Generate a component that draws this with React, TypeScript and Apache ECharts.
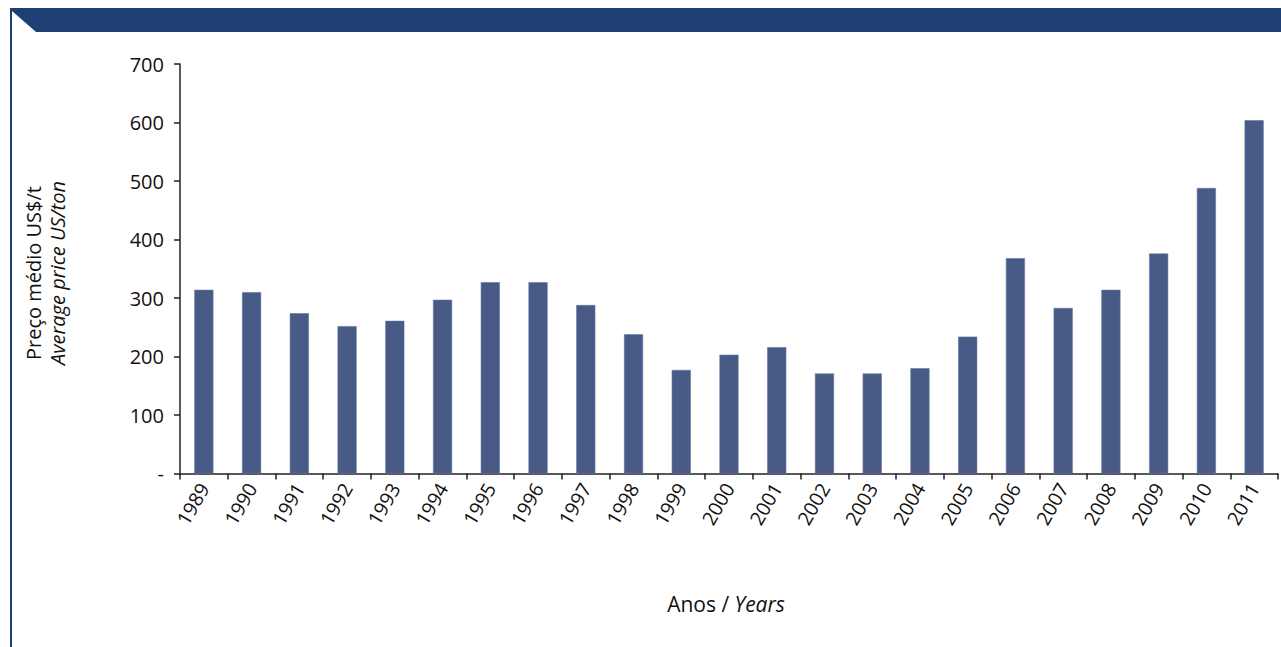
import React, { useEffect, useRef } from "react";
import * as echarts from "echarts";

const years = ["1989","1990","1991","1992","1993","1994","1995","1996","1997","1998","1999","2000","2001","2002","2003","2004","2005","2006","2007","2008","2009","2010","2011"];
const prices = [314, 310, 274, 252, 261, 297, 327, 327, 288, 238, 177, 203, 216, 171, 171, 180, 234, 368, 283, 314, 376, 488, 604];
const yTicks = { min: 0, max: 700, interval: 100 };

const FONT = "'Open Sans', 'Noto Sans', sans-serif";

export default function App() {
  const ref = useRef<HTMLDivElement>(null);
  useEffect(() => {
    if (!ref.current) return;
    const chart = echarts.init(ref.current, null, { renderer: "svg" });
    chart.setOption({
      animation: false,
      backgroundColor: "#ffffff",
      textStyle: { fontFamily: FONT },
      grid: { left: 180, right: 3, top: 64, bottom: 173.5, containLabel: false },
      xAxis: {
        type: "category",
        data: years,
        boundaryGap: true,
        axisLine: { lineStyle: { color: "#222", width: 1.5 } },
        axisTick: { show: true, length: 6, lineStyle: { color: "#222", width: 1.5 } },
        axisLabel: { rotate: 60, color: "#111", fontSize: 19.5, margin: 11, fontFamily: FONT, interval: 0 },
        splitLine: { show: false },
      },
      yAxis: {
        type: "value",
        min: yTicks.min,
        max: yTicks.max,
        interval: yTicks.interval,
        axisLine: { show: true, lineStyle: { color: "#222", width: 1.5 } },
        axisTick: { show: true, length: 6, lineStyle: { color: "#222", width: 1.5 } },
        axisLabel: {
          color: "#111",
          fontSize: 20,
          margin: 16,
          fontFamily: FONT,
          formatter: (v: number) => (v === 0 ? "-" : String(v)),
        },
        splitLine: { show: false },
      },
      series: [
        {
          type: "bar",
          data: prices,
          barWidth: "40%",
          itemStyle: { color: "#485a86", borderColor: "#6576a0", borderWidth: 0.6 },
        },
      ],
      graphic: [
        { type: "rect", shape: { x: 10, y: 8, width: 1271, height: 24 }, style: { fill: "#1d3f73" }, z: 10 },
        { type: "polygon", shape: { points: [[12, 11], [12, 32], [36, 32]] }, style: { fill: "#ffffff" }, z: 11 },
        { type: "rect", shape: { x: 10, y: 8, width: 2, height: 639 }, style: { fill: "#1d3f73" }, z: 10 },
        {
          type: "text",
          x: 33,
          y: 273,
          rotation: Math.PI / 2,
          style: { text: "Preço médio US$/t", fontSize: 20, fontFamily: FONT, fill: "#111", align: "center", verticalAlign: "middle" },
        },
        {
          type: "text",
          x: 57,
          y: 273,
          rotation: Math.PI / 2,
          style: { text: "Average price US/ton", fontSize: 20, fontStyle: "italic", fontFamily: FONT, fill: "#111", align: "center", verticalAlign: "middle" },
        },
        {
          type: "text",
          x: 726,
          y: 604,
          style: {
            text: "{a|Anos / }{b|Years}",
            align: "center",
            verticalAlign: "middle",
            rich: {
              a: { fontSize: 21, fontFamily: FONT, fill: "#111" },
              b: { fontSize: 21, fontFamily: FONT, fontStyle: "italic", fill: "#111" },
            },
          },
        },
      ],
    });
    return () => chart.dispose();
  }, []);
  return (
    <div
      ref={ref}
      style={{ position: "fixed", left: 0, top: 0, width: 1281, height: 647, background: "#fff" }}
    />
  );
}
